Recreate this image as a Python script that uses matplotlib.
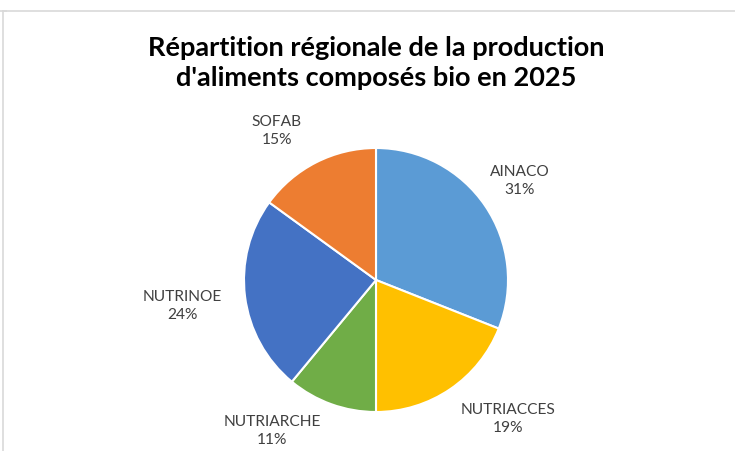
import matplotlib.pyplot as plt
from matplotlib.lines import Line2D

labels = ["AINACO", "NUTRIACCES", "NUTRIARCHE", "NUTRINOE", "SOFAB"]
shares = [31, 19, 11, 24, 15]
colors = ["#5B9BD5", "#FFC000", "#70AD47", "#4472C4", "#ED7D31"]
# label offsets from pie centre, in pixels (x right, y up)
label_offsets = [(144, 99), (132, -139), (-104, -151), (-194, -26), (-99, 149)]

W, H = 735, 451
cx, cy, r = 376, H - 280, 132

plt.rcParams["font.family"] = ["Lato", "DejaVu Sans"]
fig = plt.figure(figsize=(W / 100, H / 100), dpi=100)
ax = fig.add_axes([0, 0, 1, 1])

ax.pie(shares, colors=colors, startangle=90, counterclock=False,
       center=(cx, cy), radius=r, frame=True,
       wedgeprops=dict(edgecolor="white", linewidth=1.5))

for lab, val, (dx, dy) in zip(labels, shares, label_offsets):
    ax.text(cx + dx, cy + dy, f"{lab}\n{val}%", ha="center", va="center",
            fontsize=11.2, color="#404040", linespacing=1.45)

ax.text(376, H - 63, "Répartition régionale de la production\nd'aliments composés bio en 2025",
        ha="center", va="center", fontsize=19.5, fontweight="bold", color="black",
        linespacing=1.3)

ax.set_xlim(0, W)
ax.set_ylim(0, H)
ax.set_aspect("equal")
ax.axis("off")

# chart border (cropped)
fig.add_artist(Line2D([3 / W, 1], [1 - 11 / H] * 2, color="#D9D9D9", lw=1.2))
fig.add_artist(Line2D([3 / W] * 2, [0, 1 - 11 / H], color="#D9D9D9", lw=1.2))
fig.add_artist(Line2D([0, 6 / W], [1 - 11 / H] * 2, color="#D9D9D9", lw=1.2))

fig.savefig("out.png", dpi=100, facecolor="white")
